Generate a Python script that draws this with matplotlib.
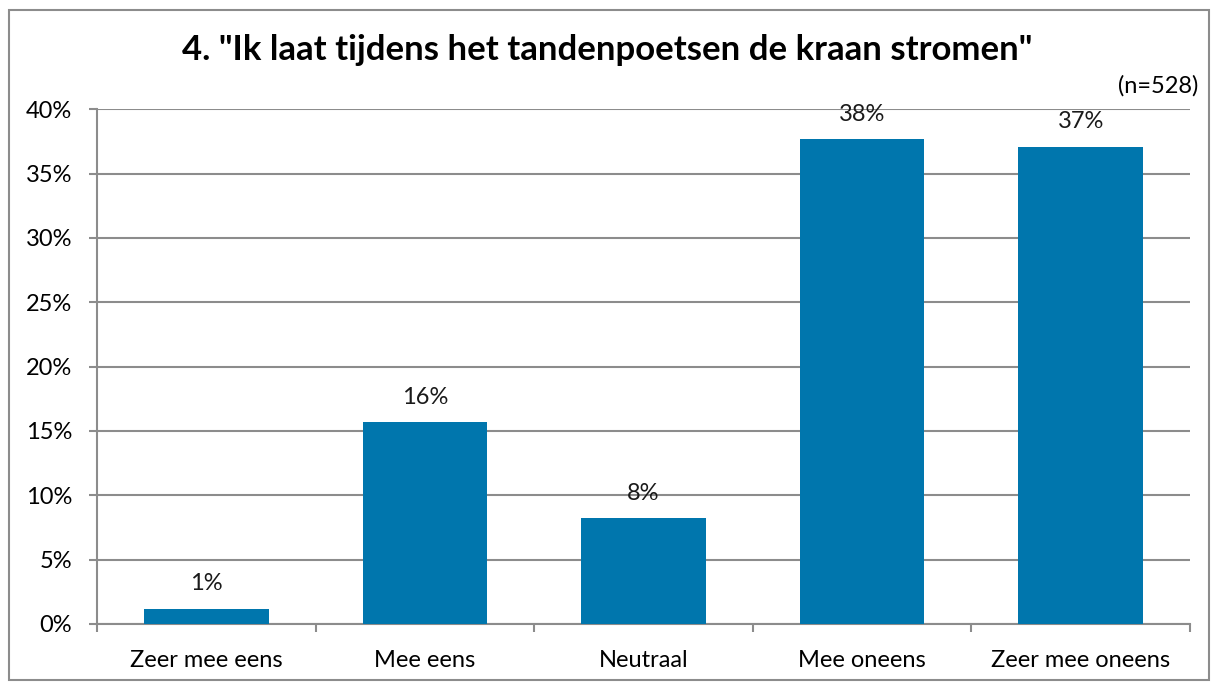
import matplotlib
matplotlib.use("Agg")
import matplotlib.pyplot as plt
from matplotlib.patches import Rectangle
import numpy as np

categories = ["Zeer mee eens", "Mee eens", "Neutraal", "Mee oneens", "Zeer mee oneens"]
values = [1.2, 15.7, 8.2, 37.7, 37.1]
labels = ["1%", "16%", "8%", "38%", "37%"]
yticks = [0, 5, 10, 15, 20, 25, 30, 35, 40]
title = '4. "Ik laat tijdens het tandenpoetsen de kraan stromen"'
note = "(n=528)"

plt.rcParams['font.family'] = ['Lato', 'DejaVu Sans']

W, H = 1214, 682
fig = plt.figure(figsize=(W / 100, H / 100), dpi=100)
fig.patch.set_facecolor('white')
fig.patches.append(Rectangle((9 / W, 1 - 680 / H), (1209 - 9) / W, (680 - 10) / H,
                             transform=fig.transFigure, fill=False,
                             edgecolor='#8C8C8C', linewidth=1.5))

left, right, top, bottom = 97, 1190, 109.3, 624
ax = fig.add_axes([left / W, 1 - bottom / H, (right - left) / W, (bottom - top) / H])

fs = 17
x = np.arange(len(categories))
bars = ax.bar(x, values, width=0.57, color='#0076AD', zorder=3)
for xi, v, lab in zip(x, values, labels):
    ax.text(xi, v + 1.1, lab, ha='center', va='bottom', fontsize=fs, color='#1a1a1a', zorder=4)

ax.set_xlim(-0.5, len(categories) - 0.5)
ax.set_ylim(0, 40)
ax.set_yticks(yticks)
ax.set_yticklabels([f"{t}%" for t in yticks], fontsize=fs)
ax.set_xticks(x)
ax.set_xticklabels(categories, fontsize=fs)
ax.set_xticks(np.arange(-0.5, len(categories)), minor=True)
ax.tick_params(axis='x', which='major', length=0, pad=19)
ax.tick_params(axis='x', which='minor', length=6, color='#8C8C8C', width=1.5)
ax.tick_params(axis='y', length=6, color='#8C8C8C', width=1.5, pad=12)

ax.grid(axis='y', color='#8C8C8C', linewidth=1.5, zorder=1)
ax.set_axisbelow(True)
for s in ['top', 'right']:
    ax.spines[s].set_visible(False)
for s in ['left', 'bottom']:
    ax.spines[s].set_color('#8C8C8C')
    ax.spines[s].set_linewidth(1.5)

fig.text(607 / W, 1 - 50 / H, title, ha='center', va='center', fontsize=25, fontweight='bold')
fig.text(1198 / W, 1 - 86 / H, note, ha='right', va='center', fontsize=fs)

fig.savefig("out.png", dpi=100)
